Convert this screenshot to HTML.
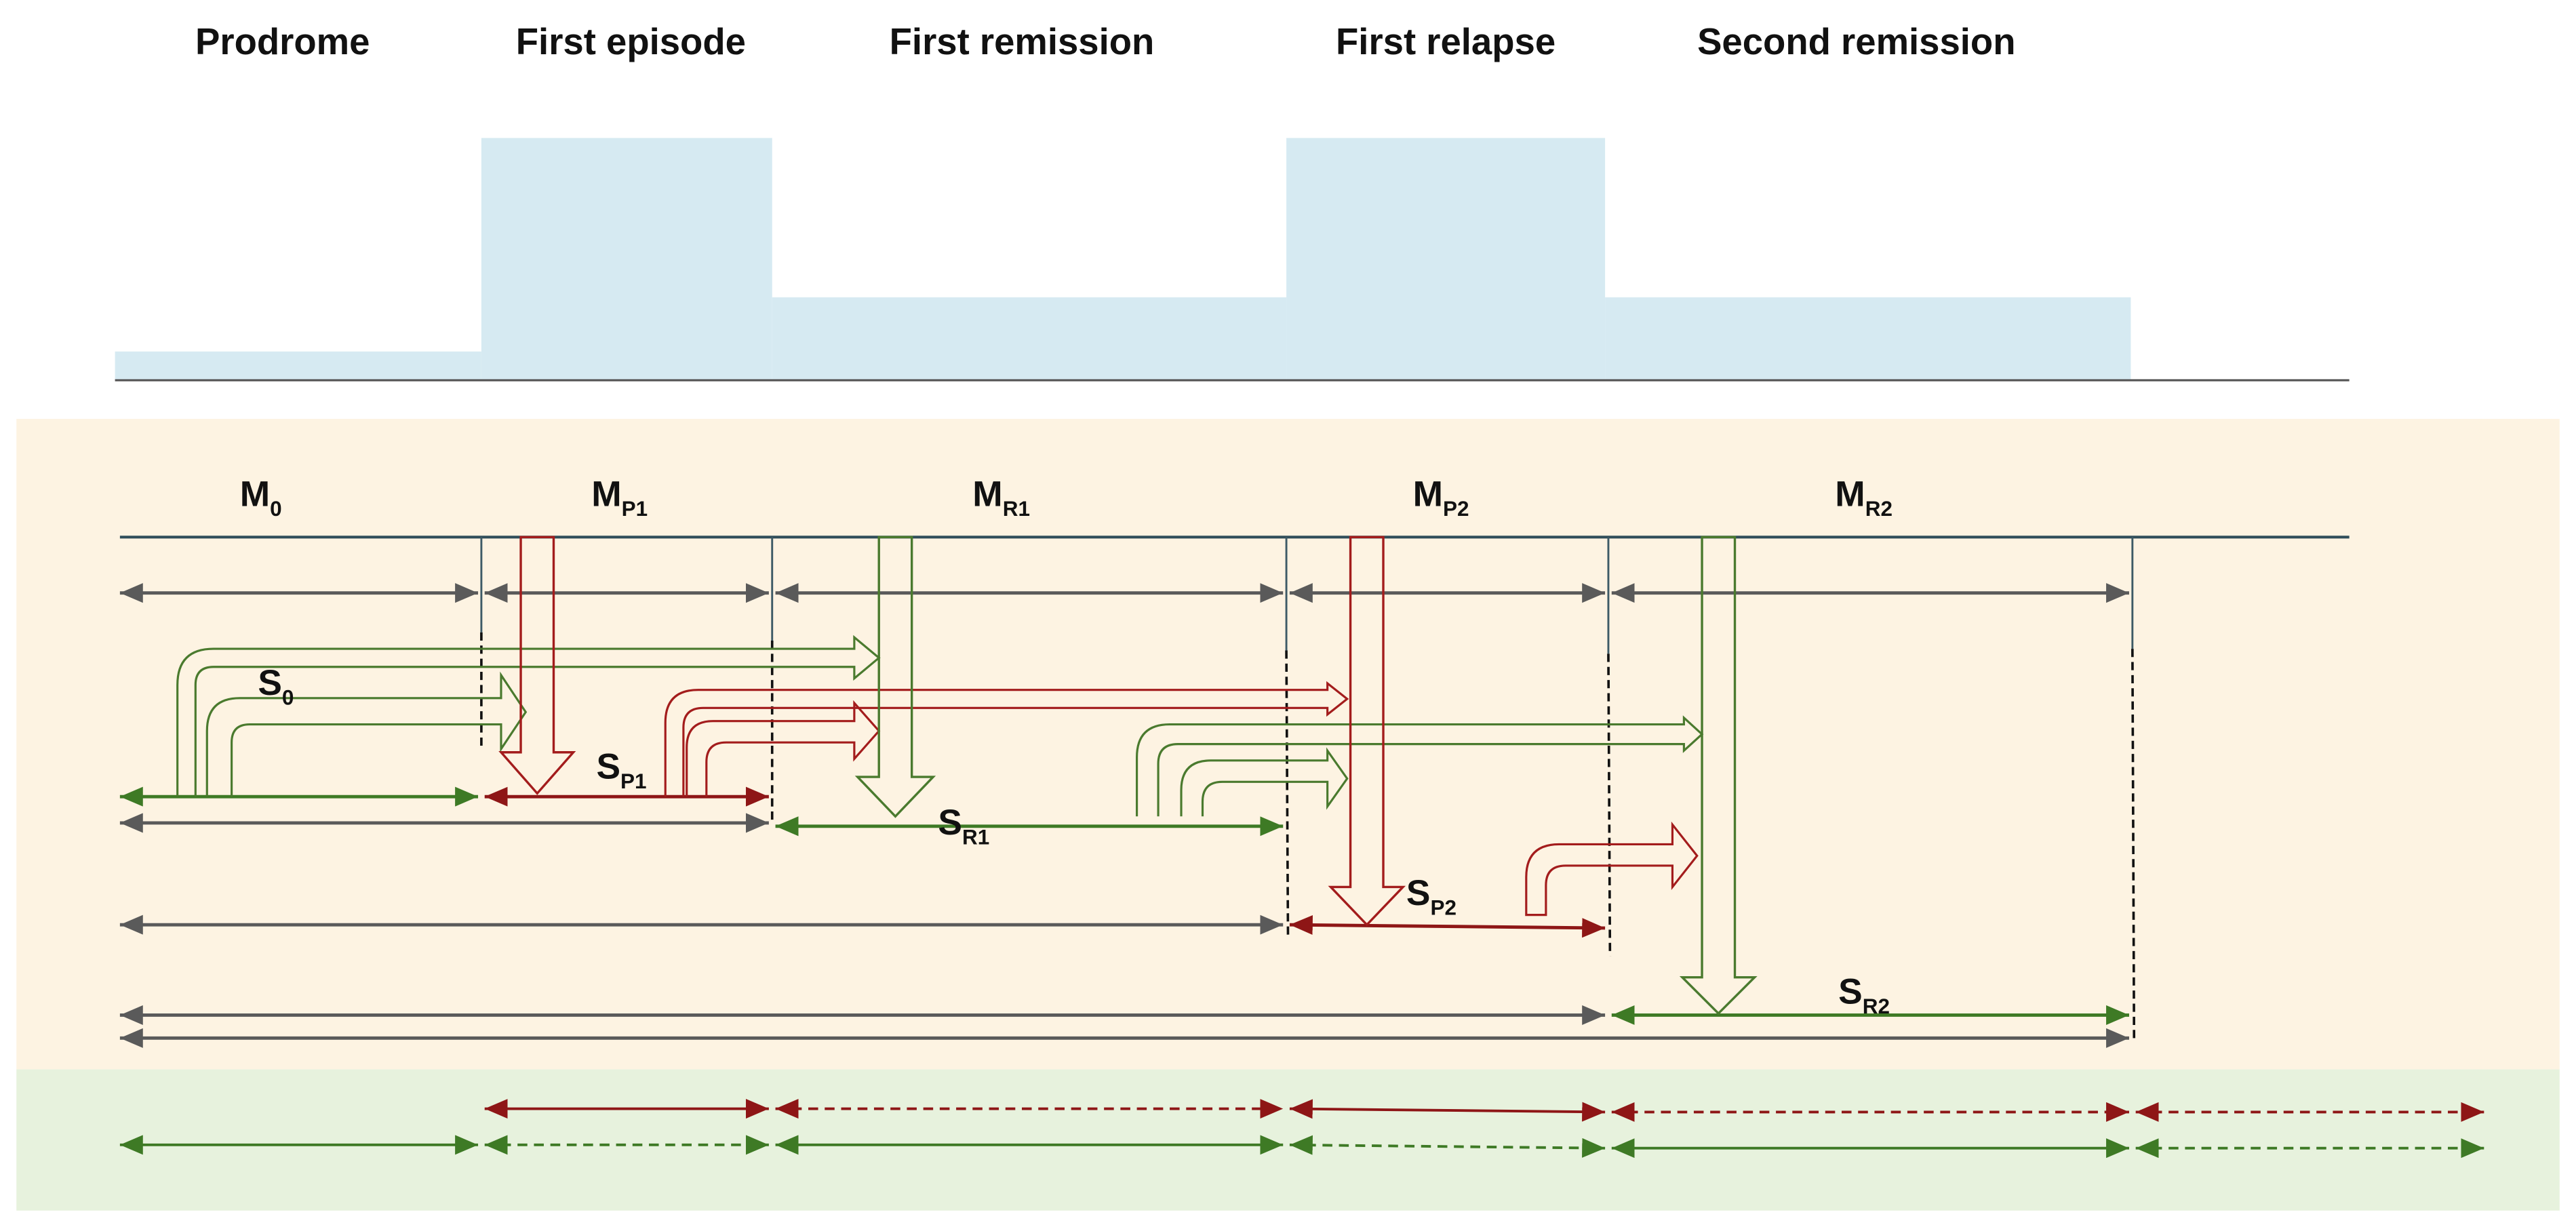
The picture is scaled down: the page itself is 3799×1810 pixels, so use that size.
<!DOCTYPE html>
<html><head><meta charset="utf-8"><style>
html,body{margin:0;padding:0;background:#fff;}
svg{display:block;}
text{font-family:"Liberation Sans",sans-serif;font-weight:bold;fill:#111;}
</style></head><body>
<svg width="3799" height="1810" viewBox="0 0 1568 747" preserveAspectRatio="none" xmlns="http://www.w3.org/2000/svg">
<defs>
<marker id="g" viewBox="0 0 14 12" refX="14" refY="6" markerWidth="14" markerHeight="12" markerUnits="userSpaceOnUse" orient="auto-start-reverse"><path d="M0,0L14,6L0,12z" fill="#5a5a5a"/></marker>
<marker id="gr" viewBox="0 0 14 12" refX="14" refY="6" markerWidth="14" markerHeight="12" markerUnits="userSpaceOnUse" orient="auto-start-reverse"><path d="M0,0L14,6L0,12z" fill="#3e7a25"/></marker>
<marker id="r" viewBox="0 0 14 12" refX="14" refY="6" markerWidth="14" markerHeight="12" markerUnits="userSpaceOnUse" orient="auto-start-reverse"><path d="M0,0L14,6L0,12z" fill="#8e1616"/></marker>
</defs>
<rect width="1568" height="747" fill="#fff"/>
<g font-size="22.5" text-anchor="middle">
<text x="172" y="33">Prodrome</text>
<text x="384" y="33">First episode</text>
<text x="622" y="33">First remission</text>
<text x="880" y="33">First relapse</text>
<text x="1130" y="33">Second remission</text>
</g>
<g fill="#d6eaf2">
<rect x="70" y="214" width="223" height="17"/>
<rect x="293" y="84" width="177" height="147"/>
<rect x="470" y="181" width="313" height="50"/>
<rect x="783" y="84" width="194" height="147"/>
<rect x="977" y="181" width="320" height="50"/>
</g>
<line x1="70" y1="231.5" x2="1430" y2="231.5" stroke="#555" stroke-width="1.3"/>
<rect x="10" y="255" width="1548" height="396" fill="#fdf3e2"/>
<rect x="10" y="651" width="1548" height="86" fill="#e7f2dd"/>
<g font-size="22">
<text x="146" y="308">M<tspan font-size="13" dy="6">0</tspan></text>
<text x="360" y="308">M<tspan font-size="13" dy="6">P1</tspan></text>
<text x="592" y="308">M<tspan font-size="13" dy="6">R1</tspan></text>
<text x="860" y="308">M<tspan font-size="13" dy="6">P2</tspan></text>
<text x="1117" y="308">M<tspan font-size="13" dy="6">R2</tspan></text>
</g>
<line x1="73" y1="327" x2="1430" y2="327" stroke="#2f4d5a" stroke-width="1.7"/>
<g stroke="#3d5a66" stroke-width="1.2">
<line x1="293" y1="327" x2="293" y2="385"/>
<line x1="470" y1="327" x2="470" y2="390"/>
<line x1="783" y1="327" x2="783" y2="396"/>
<line x1="979" y1="327" x2="979" y2="398"/>
<line x1="1298" y1="327" x2="1298" y2="395"/>
</g>
<g stroke="#111" stroke-width="1.5" stroke-dasharray="5,3">
<line x1="293" y1="385" x2="293" y2="455"/>
<line x1="470" y1="390" x2="470" y2="502"/>
<line x1="783" y1="396" x2="784" y2="570"/>
<line x1="979" y1="398" x2="980" y2="582"/>
<line x1="1298" y1="395" x2="1299" y2="632"/>
</g>
<g stroke="#5a5a5a" stroke-width="2" marker-start="url(#g)" marker-end="url(#g)">
<line x1="73" y1="361" x2="291" y2="361"/>
<line x1="295" y1="361" x2="468" y2="361"/>
<line x1="472" y1="361" x2="781" y2="361"/>
<line x1="785" y1="361" x2="977" y2="361"/>
<line x1="981" y1="361" x2="1296" y2="361"/>
<line x1="73" y1="501" x2="468" y2="501"/>
<line x1="73" y1="563" x2="781" y2="563"/>
<line x1="73" y1="618" x2="977" y2="618"/>
<line x1="73" y1="632" x2="1296" y2="632"/>
</g>
<g stroke="#3e7a25" stroke-width="2" marker-start="url(#gr)" marker-end="url(#gr)">
<line x1="73" y1="485" x2="291" y2="485"/>
<line x1="472" y1="503" x2="781" y2="503"/>
<line x1="981" y1="618" x2="1296" y2="618"/>
</g>
<g stroke="#8e1616" stroke-width="2" marker-start="url(#r)" marker-end="url(#r)">
<line x1="295" y1="485" x2="468" y2="485"/>
<line x1="785" y1="563" x2="977" y2="565"/>
</g>
<g stroke="#8e1616" stroke-width="1.6" marker-start="url(#r)" marker-end="url(#r)">
<line x1="295" y1="675" x2="468" y2="675"/>
<line x1="472" y1="675" x2="781" y2="675" stroke-dasharray="6,4"/>
<line x1="785" y1="675" x2="977" y2="677"/>
<line x1="981" y1="677" x2="1296" y2="677" stroke-dasharray="6,4"/>
<line x1="1300" y1="677" x2="1512" y2="677" stroke-dasharray="6,4"/>
</g>
<g stroke="#3e7a25" stroke-width="1.6" marker-start="url(#gr)" marker-end="url(#gr)">
<line x1="73" y1="697" x2="291" y2="697"/>
<line x1="295" y1="697" x2="468" y2="697" stroke-dasharray="6,4"/>
<line x1="472" y1="697" x2="781" y2="697"/>
<line x1="785" y1="697" x2="977" y2="699" stroke-dasharray="6,4"/>
<line x1="981" y1="699" x2="1296" y2="699"/>
<line x1="1300" y1="699" x2="1512" y2="699" stroke-dasharray="6,4"/>
</g>
<g fill="none" stroke-width="1.3" stroke-linejoin="miter">
<path stroke="#4a7a2e" d="M108,485 V417 Q108,395 130,395 H520 V388 L535,400.5 L520,413 V406 H130 Q119,406 119,417 V485"/>
<path stroke="#4a7a2e" d="M126,485 V445 Q126,425 146,425 H305 V411 L320,433.5 L305,456 V441 H152 Q141,441 141,452 V485"/>
<path stroke="#a31c1c" d="M405,485 V440 Q405,420 425,420 H808 V416 L820,425.5 L808,435 V431 H428 Q416,431 416,443 V485"/>
<path stroke="#a31c1c" d="M418,485 V455 Q418,439 434,439 H520 V428 L535,445 L520,462 V452 H442 Q430,452 430,464 V485"/>
<path stroke="#4a7a2e" d="M692,497 V461 Q692,441 712,441 H1025 V437 L1036,447 L1025,457 V453 H717 Q705,453 705,465 V497"/>
<path stroke="#4a7a2e" d="M719,497 V481 Q719,463 737,463 H808 V457 L820,474 L808,491 V476 H744 Q732,476 732,488 V497"/>
<path stroke="#a31c1c" d="M929,557 V534 Q929,514 949,514 H1018 V502 L1033,521 L1018,540 V527 H953 Q941,527 941,539 V557 Z"/>
</g>
<g fill="none" stroke-width="1.4">
<path stroke="#a31c1c" d="M317,327 H337 V458 H349 L327,483 L305,458 H317 Z"/>
<path stroke="#4a7a2e" d="M535,327 H555 V473 H568 L545,497 L522,473 H535 Z"/>
<path stroke="#a31c1c" d="M822,327 H842 V540 H854 L832,563 L810,540 H822 Z"/>
<path stroke="#4a7a2e" d="M1036,327 H1056 V595 H1068 L1046,617 L1024,595 H1036 Z"/>
</g>
<g font-size="22">
<text x="157" y="423">S<tspan font-size="13" dy="6">0</tspan></text>
<text x="363" y="474">S<tspan font-size="13" dy="6">P1</tspan></text>
<text x="571" y="508">S<tspan font-size="13" dy="6">R1</tspan></text>
<text x="856" y="551">S<tspan font-size="13" dy="6">P2</tspan></text>
<text x="1119" y="611">S<tspan font-size="13" dy="6">R2</tspan></text>
</g>
</svg>
</body></html>
